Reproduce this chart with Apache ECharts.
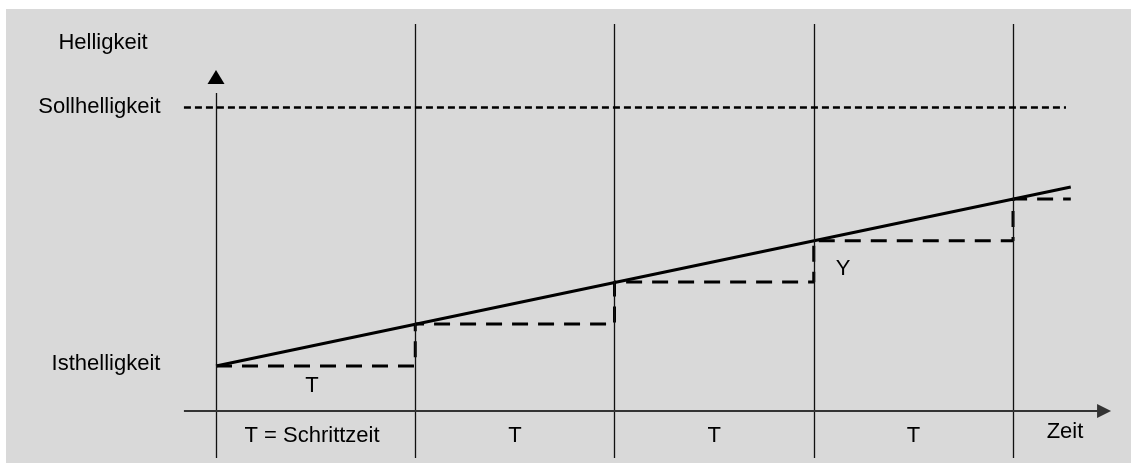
<!DOCTYPE html>
<html>
<head>
<meta charset="utf-8">
<script src="https://cdn.jsdelivr.net/npm/echarts@6/dist/echarts.min.js"></script>
<style>
html,body{margin:0;padding:0;background:#fff;}
#c{width:1131px;height:464px;}
</style>
</head>
<body>
<div id="c"></div>
<script>
// ---- data (time in units of T, brightness in arbitrary units) ----
const dividerTimes = [0, 1, 2, 3, 4];
const stepTimes = [0, 1, 2, 3, 4, 4.29];
const stepLevels = [14.8, 28.6, 42.4, 56.0, 69.7, 69.7];
const rampTimes = [0, 4.29];
const rampValues = [14.8, 73.7];
const targetLevel = 100;
const targetRange = [-0.161, 4.266];
const timeAxisRange = [-0.161, 4.457];
const dividerRange = [-15.5, 127.3];
const valueAxisRange = [-15.5, 104.6];
const valueArrowAt = 109.9;
const labels = [
  [-0.567, 121.2, 'Helligkeit'],
  [-0.585, 100.1, 'Sollhelligkeit'],
  [-0.552, 15.6, 'Isthelligkeit'],
  [0.482, 8.3, 'T'],
  [0.482, -8.3, 'T = Schrittzeit'],
  [1.5, -8.3, 'T'],
  [2.5, -8.3, 'T'],
  [3.5, -8.3, 'T'],
  [3.147, 46.6, 'Y'],
  [4.261, -6.9, 'Zeit']
];

const FONT = '"Liberation Sans", Arial, Helvetica, sans-serif';
const chart = echarts.init(document.getElementById('c'), null, {renderer: 'canvas'});

const dividerLines = dividerTimes.map(t => [
  {coord: [t, t === 0 ? valueAxisRange[0] : dividerRange[0]]},
  {coord: [t, t === 0 ? valueAxisRange[1] : dividerRange[1]]}
]);

chart.setOption({
  animation: false,
  backgroundColor: '#ffffff',
  grid: {left: 6, top: 9, right: 0, bottom: 1, show: true, borderWidth: 0, backgroundColor: '#d9d9d9'},
  xAxis: {type: 'value', min: -1.054, max: 4.5922, show: false},
  yAxis: {type: 'value', min: -17.105, max: 132.24, show: false},
  series: [
    {
      type: 'line', data: [], silent: true,
      markLine: {
        silent: true, symbol: ['none', 'none'], label: {show: false},
        lineStyle: {color: '#111111', width: 1.3, type: 'solid', opacity: 1},
        data: dividerLines
      }
    },
    {
      type: 'line', data: [], silent: true,
      markLine: {
        silent: true, symbol: ['none', 'triangle'], symbolSize: [14, 14], label: {show: false},
        lineStyle: {color: '#333333', width: 2, type: 'solid', opacity: 1},
        data: [[{coord: [timeAxisRange[0], 0]}, {coord: [timeAxisRange[1], 0]}]]
      }
    },
    {
      type: 'line', data: [], silent: true,
      markLine: {
        silent: true, symbol: ['none', 'none'], label: {show: false},
        lineStyle: {color: '#000000', width: 2.5, type: [7, 4], opacity: 1},
        data: [[{coord: [targetRange[0], targetLevel]}, {coord: [targetRange[1], targetLevel]}]]
      }
    },
    {
      type: 'line', step: 'end', showSymbol: false, silent: true,
      data: stepTimes.map((t, i) => [t, stepLevels[i]]),
      lineStyle: {color: '#000000', width: 3, type: [16, 10]}
    },
    {
      type: 'line', showSymbol: false, silent: true,
      data: rampTimes.map((t, i) => [t, rampValues[i]]),
      lineStyle: {color: '#000000', width: 3}
    },
    {
      type: 'scatter', silent: true, symbol: 'triangle', symbolSize: [17, 14],
      itemStyle: {color: '#000000', opacity: 1},
      data: [[0, valueArrowAt]]
    },
    {
      type: 'scatter', silent: true, symbolSize: 0,
      itemStyle: {opacity: 1},
      data: labels,
      label: {
        show: true, position: 'inside', formatter: p => p.data[2],
        color: '#000000', fontFamily: FONT, fontSize: 22, textBorderWidth: 0
      }
    }
  ]
});
</script>
</body>
</html>
